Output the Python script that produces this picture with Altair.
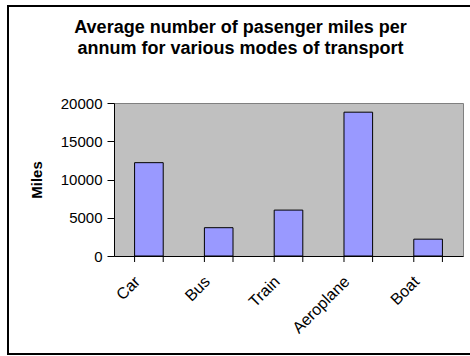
import altair as alt
import pandas as pd

modes = ["Car", "Bus", "Train", "Aeroplane", "Boat"]
miles = [12200, 3700, 6000, 18800, 2200]
y_ticks = [0, 5000, 10000, 15000, 20000]
title_lines = ["Average number of pasenger miles per", "annum for various modes of transport"]

df = pd.DataFrame({"mode": modes, "miles": miles})

FONT = "Liberation Sans"
W, H = 349, 153

xscale = alt.Scale(domain=modes, paddingInner=0.59, paddingOuter=0.295)

bars = alt.Chart(df).mark_bar(color="#9999FF", stroke="black", strokeWidth=1).encode(
    x=alt.X("mode:N", scale=xscale, sort=modes, title=None,
            axis=alt.Axis(labelAngle=-45, labelFont=FONT, labelFontSize=16, labelColor="black",
                          ticks=False, domainColor="black", domainWidth=1, labelPadding=17,
                          labelOffset=-17)),
    y=alt.Y("miles:Q", scale=alt.Scale(domain=[0, 20000], nice=False), title="Miles",
            axis=alt.Axis(values=y_ticks, format="d", grid=False, labelFont=FONT, labelFontSize=15,
                          labelColor="black", tickColor="black", tickSize=7, labelPadding=5,
                          domainColor="black", domainWidth=1, titleFont=FONT, titleFontSize=15,
                          titleFontWeight="bold", titleColor="black", titlePadding=16)),
)

ticks_start = alt.Chart(df).mark_rule(color="black", strokeWidth=1).encode(
    x=alt.X("mode:N", scale=xscale, sort=modes, bandPosition=0),
    y=alt.value(H), y2=alt.value(H + 6),
)
ticks_end = alt.Chart(df).mark_rule(color="black", strokeWidth=1).encode(
    x=alt.X("mode:N", scale=xscale, sort=modes, bandPosition=1),
    y=alt.value(H), y2=alt.value(H + 6),
)

frame = alt.Chart(df.head(1)).mark_rect(filled=False, stroke="black", strokeWidth=2).encode(
    x=alt.value(-106), x2=alt.value(W + 20), y=alt.value(-97), y2=alt.value(H + 98),
)

chart = alt.layer(frame, bars, ticks_start, ticks_end).properties(
    width=W, height=H,
    autosize=alt.AutoSizeParams(type="none"),
    padding={"left": 114, "top": 103, "right": 7, "bottom": 100},
    title=alt.TitleParams(title_lines, font=FONT, fontSize=18, fontWeight="bold", color="black",
                          anchor="middle", frame="group", baseline="alphabetic",
                          dx=-48, offset=-67, lineHeight=21),
    background="white",
).configure_view(fill="#C0C0C0", stroke="#808080", strokeWidth=1)

chart.save("out.html", embed_options={"renderer": "svg", "actions": False})
